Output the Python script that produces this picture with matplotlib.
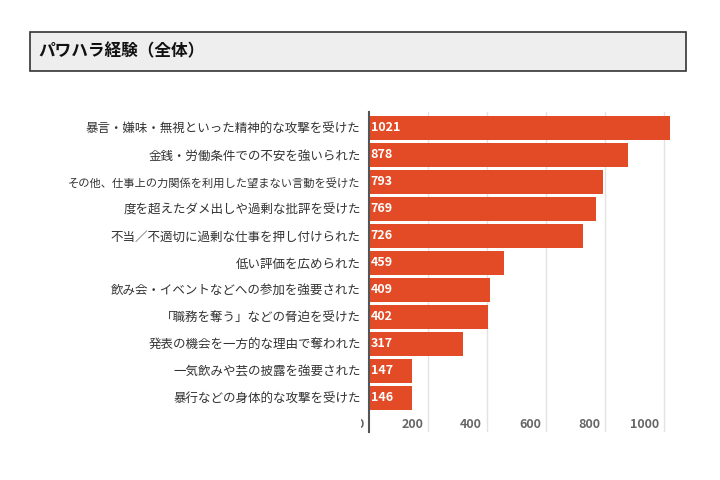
import matplotlib
matplotlib.use("Agg")
import matplotlib.pyplot as plt
from matplotlib.patches import Rectangle

plt.rcParams['font.family'] = ['Noto Sans CJK JP', 'DejaVu Sans']

categories = [
    "暴言・嫌味・無視といった精神的な攻撃を受けた",
    "金銭・労働条件での不安を強いられた",
    "その他、仕事上の力関係を利用した望まない言動を受けた",
    "度を超えたダメ出しや過剰な批評を受けた",
    "不当／不適切に過剰な仕事を押し付けられた",
    "低い評価を広められた",
    "飲み会・イベントなどへの参加を強要された",
    "「職務を奪う」などの脅迫を受けた",
    "発表の機会を一方的な理由で奪われた",
    "一気飲みや芸の披露を強要された",
    "暴行などの身体的な攻撃を受けた",
]
counts = [1021, 878, 793, 769, 726, 459, 409, 402, 317, 147, 146]
xticks = [0, 200, 400, 600, 800, 1000]
title = "パワハラ経験（全体）"

BAR = "#e24b25"
W, H = 720, 480
fig = plt.figure(figsize=(7.2, 4.8), dpi=100)
fig.patch.set_facecolor("white")

# title box
fig.patches.append(Rectangle((30 / W, 1 - 71 / H), 656 / W, 39 / H, transform=fig.transFigure,
                             facecolor="#eeeeee", edgecolor="#333333", lw=1.2, zorder=0))
fig.text(38 / W, 1 - 51 / H, title, ha="left", va="center", fontsize=12, fontweight="bold", color="#111")

ax = fig.add_axes([369 / W, 1 - 432 / H, (680 - 369) / W, 320 / H])
y = list(range(len(categories)))
ax.barh(y, counts, height=0.89, color=BAR, zorder=2)
ax.set_ylim(11.26, -0.59)
ax.set_xlim(0, 1054)

for s in ["top", "right", "bottom"]:
    ax.spines[s].set_visible(False)
ax.spines["left"].set_color("#555555")
ax.spines["left"].set_linewidth(1.5)
ax.spines["left"].set_zorder(4)

ax.set_xticks([])
ax.set_yticks(y)
ax.set_yticklabels(categories, fontsize=9, color="#333333")
ax.tick_params(axis="y", length=0, pad=6)
# the longest label is squeezed a bit in the original
longest = max(categories, key=len)
for lab in ax.get_yticklabels():
    if lab.get_text() == longest:
        lab.set_fontsize(8.1)

for t in xticks[1:]:
    ax.axvline(t, color="#e3e3e3", lw=1, zorder=1)

# the "0" label is half hidden behind the axis in the original
clip = Rectangle((361 / W, 0), 1, 1, transform=fig.transFigure, visible=False)
fig.patches.append(clip)
for t in xticks:
    txt = ax.text(t - 17, 11.0, str(t), ha="right", va="center", fontsize=9,
                  fontweight="bold", color="#666666", zorder=3)
    if t == 0:
        txt.set_clip_path(clip)
        txt.set_clip_on(True)

for yi, c in zip(y, counts):
    ax.text(6, yi, str(c), ha="left", va="center", fontsize=9, fontweight="bold",
            color="white", zorder=3)

fig.savefig("out.png", dpi=100, facecolor="white")
